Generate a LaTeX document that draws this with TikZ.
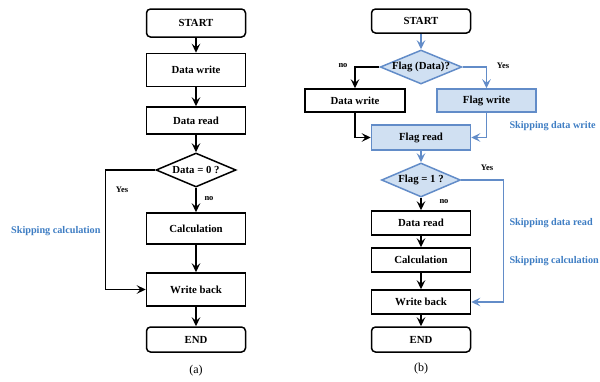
\documentclass[tikz,border=0pt]{standalone}
\usepackage{fontspec}
\setmainfont{Liberation Serif}
\usetikzlibrary{shapes.geometric,arrows.meta}
\definecolor{flowblue}{RGB}{98,140,200}
\definecolor{flowfill}{RGB}{208,224,242}
\definecolor{notetext}{RGB}{62,125,195}
\tikzset{
  box/.style={draw=black, fill=white, line width=1.5pt, minimum width=99pt,
    inner sep=0pt, font=\fontsize{10.8}{12}\selectfont\bfseries},
  bluebox/.style={box, draw=flowblue, fill=flowfill},
  term/.style={box, rounded corners=4pt},
  decide/.style={diamond, aspect=2.4, draw=black, fill=white, line width=1.5pt, inner sep=0pt,
    minimum width=80pt, minimum height=34pt, font=\fontsize{10.8}{12}\selectfont\bfseries},
  bluedecide/.style={decide, draw=flowblue, fill=flowfill},
  flow/.style={line width=1.5pt, draw=black, -{Stealth[length=9pt,width=8.5pt,inset=3.5pt]}},
  blueflow/.style={flow, draw=flowblue, -{Stealth[length=9pt,width=8.5pt,inset=3.5pt,fill=flowblue]}},
  tag/.style={font=\fontsize{8.5}{10}\selectfont\bfseries},
  note/.style={text=notetext, font=\fontsize{10.2}{12}\selectfont\bfseries},
  caption/.style={font=\fontsize{12}{14}\selectfont}
}
\begin{document}
\begin{tikzpicture}[x=1pt, y=-1pt]
\useasboundingbox (0,0) rectangle (600,381);

% ---------- (a) conventional flow ----------
\node[term, minimum height=28pt] (a0) at (196,23) {START};
\node[box, minimum height=33pt] (a1) at (196,70) {Data write};
\node[box, minimum height=27pt] (a2) at (196,120.5) {Data read};
\node[decide] (a3) at (196,170) {Data = 0 ?};
\node[box, minimum height=31pt] (a4) at (196,228.5) {Calculation};
\node[box, minimum height=33pt] (a5) at (196,289.5) {Write back};
\node[term, minimum height=25pt] (a6) at (196,339.5) {END};

\draw[flow] (a0) -- (a1);
\draw[flow] (a1) -- (a2);
\draw[flow] (a2) -- (a3);
\draw[flow] (a3) -- (a4);
\draw[flow] (a4) -- (a5);
\draw[flow] (a5) -- (a6);
\draw[flow] (a3.west) -- ++(-50,0) coordinate (ay) |- (a5.west);

\node[tag] (ayes) at (122,190) {Yes};
\node[tag] (ano) at (209,199) {no};
\node[note, anchor=east] (askip) at (104,231) {Skipping calculation};
\node[caption] (acap) at (196,371) {(a)};

% ---------- (b) flag-based flow ----------
\node[term, minimum height=24pt] (b0) at (421,21) {START};
\node[bluedecide, minimum height=33pt] (b1) at (421,67) {Flag (Data)?};
\node[box, minimum width=100pt, minimum height=23pt] (b2) at (355,100.5) {Data write};
\node[bluebox, minimum width=99pt, minimum height=23pt] (b3) at (486.5,100.5) {Flag write};
\node[bluebox, minimum height=25pt] (b4) at (421,137.5) {Flag read};
\node[bluedecide, minimum width=79pt] (b5) at (421,180) {Flag = 1 ?};
\node[box, minimum height=24pt] (b6) at (421,223) {Data read};
\node[box, minimum height=24pt] (b7) at (421,260) {Calculation};
\node[box, minimum height=24pt] (b8) at (421,302) {Write back};
\node[term, minimum height=25pt] (b9) at (421,339.5) {END};

\draw[blueflow] (b0) -- (b1);
\draw[flow] (b1.west) -| (b2.north);
\draw[blueflow] (b1.east) -| (b3.north);
\draw[flow] (b2.south) |- (b4.west);
\draw[blueflow] (b3.south) |- (b4.east);
\draw[blueflow] (b4) -- (b5);
\draw[flow] (b5) -- (b6);
\draw[flow] (b6) -- (b7);
\draw[flow] (b7) -- (b8);
\draw[flow] (b8) -- (b9);
\draw[blueflow] (b5.east) -- ++(42,0) coordinate (by) |- (b8.east);

\node[tag] (bno1) at (343,66) {no};
\node[tag] (byes1) at (503,66) {Yes};
\node[tag] (byes2) at (487,168) {Yes};
\node[tag] (bno2) at (444,202) {no};
\node[note, anchor=west] (bskip1) at (506,126) {Skipping data write};
\node[note, anchor=west] (bskip2) at (506,223) {Skipping data read};
\node[note, anchor=west] (bskip3) at (506,261) {Skipping calculation};
\node[caption] (bcap) at (421,369) {(b)};
\end{tikzpicture}
\end{document}
